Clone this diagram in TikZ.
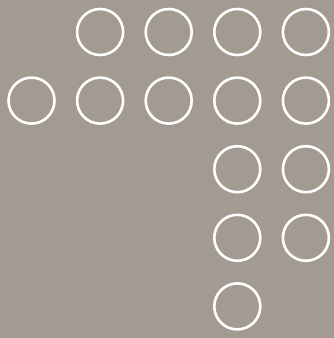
\documentclass[tikz,border=0pt]{standalone}
\usetikzlibrary{positioning}
\definecolor{StoneGray}{RGB}{163,155,146}
\tikzset{
  ring/.style={circle,draw=white,line width=2.6pt,minimum size=46pt,inner sep=0pt}
}
\begin{document}
\begin{tikzpicture}[x=1pt,y=-1pt]
  \fill[StoneGray] (0,0) rectangle (334,338);
  \useasboundingbox (0,0) rectangle (334,338);
  % row, column of each ring
  \foreach \r/\c in {1/2,1/3,1/4,1/5,
                     2/1,2/2,2/3,2/4,2/5,
                     3/4,3/5,
                     4/4,4/5,
                     5/4}
    \node[ring] (ring-\r-\c) at ({31.5+68.6*(\c-1)},{32+68.6*(\r-1)}) {};
\end{tikzpicture}
\end{document}
